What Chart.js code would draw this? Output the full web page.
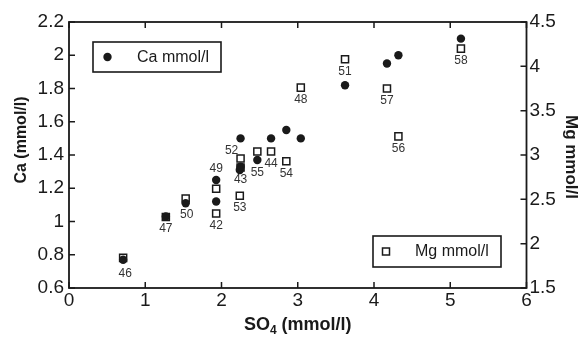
<!DOCTYPE html>
<html>
<head>
<meta charset="utf-8">
<script src="https://cdn.jsdelivr.net/npm/chart.js@4"></script>
<style>
  html, body { margin:0; padding:0; background:#fff; }
  #wrap { width:586px; height:337px; }
</style>
</head>
<body>
<div id="wrap"><canvas id="c"></canvas></div>
<script>
// sample numbers and measured values
var sampleIds = [46, 47, 50, 49, 42, 52, 43, 53, 55, 44, 54, 48, 51, 57, 56, 58];
var so4Values = [0.71, 1.27, 1.53, 1.93, 1.93, 2.25, 2.25, 2.24, 2.47, 2.65, 2.85, 3.04, 3.62, 4.17, 4.32, 5.14];
var caValues  = [0.77, 1.03, 1.11, 1.25, 1.12, 1.50, 1.33, 1.31, 1.37, 1.50, 1.55, 1.50, 1.82, 1.95, 2.00, 2.10];
var mgValues  = [1.84, 2.30, 2.51, 2.62, 2.34, 2.96, 2.86, 2.54, 3.04, 3.04, 2.93, 3.76, 4.08, 3.75, 3.21, 4.20];

var FONT = "'Liberation Sans', Arial, Helvetica, sans-serif";
var INK = "#1a1a1a";

// where the sample number sits relative to its square (default: just below)
var labelShift = {
  55: [0, 21],
  52: [-9, -8],
  49: [0, -20],
  50: [1, 16],
  46: [2, 16],
};

var caPoints = so4Values.map((x, i) => ({x:x, y:caValues[i]}));
var mgPoints = so4Values.map((x, i) => ({x:x, y:mgValues[i]}));

//----------- frame + inward ticks ----------
var framePlugin = {
  id:"frame",
  afterDraw(chart) {
    var ctx = chart.ctx, a = chart.chartArea;
    var sx = chart.scales.x, sy = chart.scales.y, sy1 = chart.scales.y1;
    var len = 6;
    ctx.save();
    ctx.strokeStyle = INK;
    ctx.lineWidth = 1.8;
    ctx.strokeRect(a.left, a.top, a.right - a.left, a.bottom - a.top);
    ctx.lineWidth = 1.5;
    ctx.beginPath();
    sx.ticks.forEach(t => {
      var px = sx.getPixelForValue(t.value);
      ctx.moveTo(px, a.bottom); ctx.lineTo(px, a.bottom - len);
      ctx.moveTo(px, a.top); ctx.lineTo(px, a.top + len);
    });
    sy.ticks.forEach(t => {
      var py = sy.getPixelForValue(t.value);
      ctx.moveTo(a.left, py); ctx.lineTo(a.left + len, py);
    });
    sy1.ticks.forEach(t => {
      var py = sy1.getPixelForValue(t.value);
      ctx.moveTo(a.right, py); ctx.lineTo(a.right - len, py);
    });
    ctx.stroke();
    ctx.restore();
  }
};

//----------- sample numbers under the squares ----------
var sampleLabelPlugin = {
  id:"sampleLabels",
  afterDatasetsDraw(chart) {
    var ctx = chart.ctx;
    var sx = chart.scales.x, sy1 = chart.scales.y1;
    ctx.save();
    ctx.font = "12px " + FONT;
    ctx.fillStyle = "#333";
    ctx.textAlign = "center";
    ctx.textBaseline = "middle";
    sampleIds.forEach((id, i) => {
      var sh = labelShift[id] || [0, 12];
      var px = sx.getPixelForValue(so4Values[i]);
      var py = sy1.getPixelForValue(mgValues[i]);
      ctx.fillText(String(id), px + sh[0], py + sh[1]);
    });
    ctx.restore();
  }
};

//----------- axis titles and the two legend boxes ----------
var textPlugin = {
  id:"texts",
  afterDraw(chart) {
    var ctx = chart.ctx, a = chart.chartArea;
    ctx.save();
    ctx.fillStyle = INK;

    // left title
    ctx.save();
    ctx.translate(22, 140);
    ctx.rotate(-Math.PI / 2);
    ctx.font = "bold 16px " + FONT;
    ctx.textAlign = "center";
    ctx.textBaseline = "middle";
    ctx.fillText("Ca (mmol/l)", 0, 0);
    ctx.restore();

    // right title
    ctx.save();
    ctx.translate(571, 157);
    ctx.rotate(Math.PI / 2);
    ctx.font = "bold 17px " + FONT;
    ctx.textAlign = "center";
    ctx.textBaseline = "middle";
    ctx.fillText("Mg mmol/l", 0, 0);
    ctx.restore();

    // bottom title with subscript
    var big = "bold 18px " + FONT, small = "bold 12px " + FONT;
    ctx.textBaseline = "alphabetic";
    ctx.textAlign = "left";
    ctx.font = big;  var w1 = ctx.measureText("SO").width;
    ctx.font = small; var w2 = ctx.measureText("4").width;
    ctx.font = big;  var w3 = ctx.measureText(" (mmol/l)").width;
    var cx = (a.left + a.right) / 2;
    var x0 = cx - (w1 + w2 + w3) / 2, base = 330;
    ctx.font = big;   ctx.fillText("SO", x0, base);
    ctx.font = small; ctx.fillText("4", x0 + w1, base + 4);
    ctx.font = big;   ctx.fillText(" (mmol/l)", x0 + w1 + w2, base);

    // legend boxes
    ctx.lineWidth = 1.6;
    ctx.strokeStyle = INK;
    ctx.strokeRect(93, 42, 128, 30);
    ctx.beginPath();
    ctx.arc(107.5, 57, 4.2, 0, Math.PI * 2);
    ctx.fill();
    ctx.strokeRect(373, 236, 128, 31);
    ctx.lineWidth = 1.5;
    ctx.strokeRect(382.5, 248, 7, 7);
    ctx.font = "16px " + FONT;
    ctx.textBaseline = "middle";
    ctx.fillText("Ca mmol/l", 137, 57.5);
    ctx.fillText("Mg mmol/l", 415, 252);
    ctx.restore();
  }
};

var tickFont = {family:FONT, size:19};

new Chart(document.getElementById("c"), {
  type:"scatter",
  data:{
    datasets:[
      {
        label:"Ca mmol/l",
        data:caPoints,
        yAxisID:"y",
        pointStyle:"circle",
        pointRadius:4.2,
        backgroundColor:INK,
        borderColor:INK,
        borderWidth:0,
      },
      {
        label:"Mg mmol/l",
        data:mgPoints,
        yAxisID:"y1",
        pointStyle:"rect",
        pointRadius:5,
        backgroundColor:"rgba(0,0,0,0)",
        borderColor:INK,
        borderWidth:1.5,
      },
    ]
  },
  options:{
    responsive:true,
    maintainAspectRatio:false,
    animation:false,
    layout:{padding:{top:22, left:0, right:0, bottom:0}},
    plugins:{
      legend:{display:false},
      tooltip:{enabled:false},
    },
    scales:{
      x:{
        type:"linear",
        min:0, max:6,
        grid:{display:false, drawTicks:false},
        border:{display:false},
        ticks:{stepSize:1, color:INK, font:tickFont, padding:1},
        afterFit:(s)=>{ s.height = 49; },
      },
      y:{
        position:"left",
        min:0.6, max:2.2,
        grid:{display:false, drawTicks:false},
        border:{display:false},
        ticks:{stepSize:0.2, color:INK, font:tickFont, padding:5,
          callback:(v)=>String(+v.toFixed(1))},
        afterFit:(s)=>{ s.width = 69; },
      },
      y1:{
        position:"right",
        min:1.5, max:4.5,
        grid:{display:false, drawTicks:false},
        border:{display:false},
        ticks:{stepSize:0.5, color:INK, font:tickFont, padding:3,
          callback:(v)=>String(+v.toFixed(1))},
        afterFit:(s)=>{ s.width = 59.5; },
      },
    }
  },
  plugins:[framePlugin, sampleLabelPlugin, textPlugin],
});
</script>
</body>
</html>
